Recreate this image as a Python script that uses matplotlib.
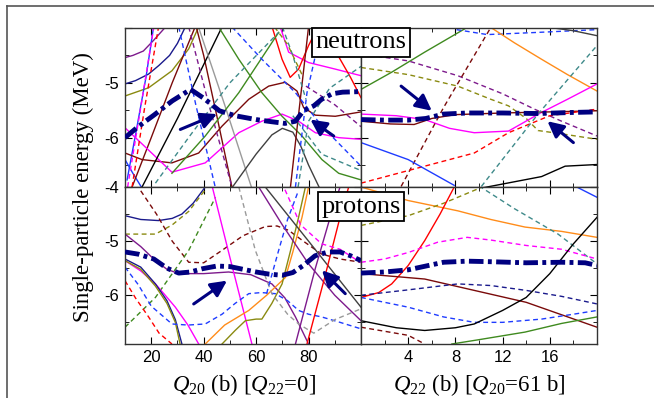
import matplotlib
matplotlib.use('Agg')
from matplotlib import pyplot as plt
from matplotlib.lines import Line2D
from matplotlib.ticker import MultipleLocator, FixedLocator

# ---- data: single-particle levels ----
# neutrons vs Q20 (Q22 = 0)
n_q20_x = {
    'thick': [10, 15, 21, 28, 35, 40, 46, 52, 60, 66, 71, 75, 78, 82, 85, 89, 93, 100],
    'purple': [10, 13, 17, 21, 25.5],
    'navy': [10, 14, 19, 23, 27, 30, 33],
    'olive': [10, 19, 27.9, 34.3, 38.1],
    'blue1': [10.8, 14, 18, 20.9],
    'blue2': [10, 13, 16.5],
    'brown1': [12.7, 20, 28, 34, 37, 40, 45, 51],
    'brown2': [10, 16.5, 27.9, 38.1, 47, 57.2, 64.8, 71.1, 75.6, 78.1, 82.6, 90.2, 100],
    'magenta1': [10, 27.9, 40.6, 53.4, 62.2, 69.9, 76.2, 82.6, 91.5, 100],
    'magenta2': [69.2, 72.4, 80, 90.2, 100],
    'red1': [66.1, 69.9, 73, 76.2, 80, 82],
    'red2': [90, 93, 96, 100],
    'black': [16.5, 30, 47],
    'gray': [38, 48, 58.4],
    'green1': [45.7, 53.4, 62.2, 69.9, 77.5, 85.1, 91.5, 100],
    'green2': [27.9, 40.6, 53.4, 68.6],
    'dkgray': [51, 60, 66, 70, 74, 77, 80, 84],
    'brown3': [73.1, 76.5, 80],
    'red_d': [12.7, 17.5, 22.8],
    'magenta_d': [11, 16, 21],
    'blue_d1': [30.5, 37, 44.4],
    'purple_d': [34.3, 42, 50.8],
    'blue_d2': [50.8, 62.2, 75, 85.1, 100],
    'blue_d3': [75, 79.4, 85.1],
    'teal_d1': [21.6, 35, 50, 68.6],
    'teal_d2': [76, 80, 88, 100],
    'teal_d3': [70, 74, 79],
    'teal_d4': [74, 85, 100],
    'olive_d': [67, 72, 78],
    'purple_d2': [79, 90, 100],
}
n_q20_y = {
    'thick': [-6.0, -5.8, -5.59, -5.33, -5.12, -5.28, -5.51, -5.6, -5.67, -5.71, -5.74, -5.7, -5.51, -5.42, -5.3, -5.2, -5.17, -5.16],
    'purple': [-4.54, -4.5, -4.42, -4.22, -3.98],
    'navy': [-5.02, -4.96, -4.84, -4.68, -4.5, -4.28, -3.98],
    'olive': [-5.24, -5.09, -4.78, -4.38, -3.98],
    'blue1': [-6.77, -5.95, -4.9, -3.98],
    'blue2': [-6.4, -6.65, -6.92],
    'brown1': [-6.9, -6.0, -5.0, -4.3, -3.95, -4.5, -5.6, -6.95],
    'brown2': [-6.28, -6.4, -6.46, -6.28, -5.79, -5.3, -5.06, -4.99, -5.15, -5.45, -5.59, -5.61, -5.53],
    'magenta1': [-5.82, -6.63, -6.46, -5.91, -5.7, -5.57, -5.7, -5.91, -6.0, -6.03],
    'magenta2': [-3.98, -4.44, -4.63, -4.75, -4.87],
    'red1': [-3.98, -4.57, -4.9, -4.75, -4.32, -4.13],
    'red2': [-4.4, -4.65, -4.9, -5.27],
    'black': [-6.9, -5.65, -3.98],
    'gray': [-3.98, -5.4, -6.93],
    'green1': [-3.98, -4.57, -5.18, -5.61, -5.97, -6.4, -6.65, -6.77],
    'green2': [-6.65, -5.97, -5.18, -4.08],
    'dkgray': [-6.9, -6.3, -5.95, -5.83, -5.9, -6.15, -6.5, -6.9],
    'brown3': [-6.9, -5.45, -3.98],
    'red_d': [-6.9, -5.45, -3.98],
    'magenta_d': [-6.9, -5.45, -3.98],
    'blue_d1': [-3.98, -5.4, -6.9],
    'purple_d': [-3.98, -5.4, -6.9],
    'blue_d2': [-3.98, -4.57, -5.18, -5.79, -6.52],
    'blue_d3': [-6.9, -5.18, -3.98],
    'teal_d1': [-6.83, -5.95, -5.0, -4.08],
    'teal_d2': [-6.9, -5.7, -5.1, -4.7],
    'teal_d3': [-3.98, -4.5, -5.3],
    'teal_d4': [-5.6, -6.3, -6.6],
    'olive_d': [-3.98, -4.3, -4.9],
    'purple_d2': [-5.06, -5.4, -5.8],
}

# neutrons vs Q22 (Q20 = 61 b)
n_q22_x = {
    'thick': [0, 2, 4, 5.5, 7, 9, 12, 15, 18, 20],
    'green': [0, 2.57, 5.4, 9.07],
    'blue_d': [8.1, 10.7, 15, 20],
    'dkgray': [16, 18, 20],
    'orange': [11, 13, 15.3, 17.5, 20],
    'purple_d': [0, 4, 8.2, 12, 14.7, 17, 20],
    'olive_d': [0, 4, 8.2, 11, 12.5, 14, 15, 17, 20],
    'magenta': [0, 3, 5.4, 7.5, 9.6, 12.5, 15.3, 17.5, 20],
    'brown': [0, 2.5, 4.5, 6, 8, 12, 20],
    'brown_d': [3.4, 7, 11],
    'red_d': [0, 5.4, 9.6, 12.5, 16, 20],
    'teal_d': [10.2, 15, 20],
    'blue': [0, 4, 7.9],
    'black': [10.2, 15.3, 17.3, 20],
}
n_q22_y = {
    'thick': [-5.67, -5.68, -5.68, -5.65, -5.57, -5.55, -5.55, -5.56, -5.54, -5.53],
    'green': [-5.12, -4.81, -4.44, -3.98],
    'blue_d': [-4.03, -4.12, -4.08, -4.03],
    'dkgray': [-3.99, -4.05, -4.14],
    'orange': [-3.99, -4.27, -4.57, -4.85, -5.15],
    'purple_d': [-4.47, -4.6, -4.87, -5.2, -5.48, -5.7, -5.97],
    'olive_d': [-4.72, -4.85, -5.06, -5.3, -5.42, -5.65, -5.87, -5.93, -6.03],
    'magenta': [-5.57, -5.6, -5.67, -5.83, -5.91, -5.88, -5.54, -5.3, -5.02],
    'brown': [-5.7, -5.75, -5.76, -5.65, -5.58, -5.55, -5.51],
    'brown_d': [-6.89, -5.45, -3.99],
    'red_d': [-6.83, -6.52, -6.28, -5.91, -5.6, -5.48],
    'teal_d': [-6.89, -5.57, -4.32],
    'blue': [-6.09, -6.4, -6.87],
    'black': [-6.92, -6.71, -6.52, -6.49],
}

# protons vs Q20 (Q22 = 0)
p_q20_x = {
    'thick': [10, 15, 21, 26, 30.5, 35, 39.5, 45, 50, 55, 60, 65, 70, 74, 78, 82.5, 87.5, 92, 96, 100],
    'navy1': [10, 16, 22.8, 28, 31.7, 36, 40.6],
    'olive_d': [10, 21.6, 28, 34.3, 40.6],
    'brown_d': [16, 22, 28, 34.3, 40, 47, 55, 63.5, 68, 72.4, 78, 85, 92, 100],
    'green_d': [10, 21.6, 34.3, 44.5],
    'purple1': [10, 16, 21.6, 26, 30.5, 40, 49.5, 58, 66, 71, 75, 80],
    'magenta1': [43.2, 50, 58.4],
    'magenta2': [10, 16, 21.6, 25, 29.2, 34, 38.1],
    'navy2': [10, 16, 21.6, 26, 29.2, 31.7],
    'olive2': [10, 16, 21.6, 26, 29.2, 31],
    'blue_d1': [10, 15, 20, 27.9, 34, 40.6, 47, 52, 57.2, 62, 67.3, 72, 76.2, 80, 85, 92, 100],
    'red_d': [10, 14, 19, 23, 27.9],
    'orange': [40.6, 48, 57.2, 64, 71.2, 74, 77.5, 80],
    'olive1': [47, 52, 55.9, 60, 62.2, 66, 69.9, 73, 76.2, 78.8],
    'gray_d': [53.4, 59.7, 66, 72, 76.2, 82, 90, 100],
    'purple2': [61, 70, 80, 90, 100],
    'dkgray': [63.5, 80, 100],
    'red1': [79.4, 86, 92, 95.3],
    'purple3': [75, 82.6, 88, 92],
    'magenta_d': [71, 77, 85, 92, 100],
    'blue_d2': [64, 68.6, 72, 76.2],
}
p_q20_y = {
    'thick': [-5.2, -5.24, -5.33, -5.5, -5.59, -5.57, -5.51, -5.46, -5.47, -5.52, -5.57, -5.61, -5.63, -5.58, -5.45, -5.27, -5.2, -5.2, -5.27, -5.36],
    'navy1': [-4.53, -4.6, -4.62, -4.58, -4.5, -4.3, -4.0],
    'olive_d': [-4.87, -4.87, -4.7, -4.45, -4.05],
    'brown_d': [-4.07, -4.5, -5.0, -5.39, -5.4, -5.17, -4.9, -4.73, -4.72, -4.8, -5.0, -5.24, -5.33, -5.39],
    'green_d': [-6.59, -6.04, -5.17, -4.19],
    'purple1': [-4.87, -5.1, -5.36, -5.52, -5.6, -5.6, -5.57, -5.62, -5.79, -6.05, -6.4, -6.9],
    'magenta1': [-3.98, -5.3, -6.9],
    'magenta2': [-5.36, -5.55, -5.79, -5.98, -6.22, -6.55, -6.9],
    'navy2': [-5.33, -5.48, -5.79, -6.1, -6.45, -6.9],
    'olive2': [-5.36, -5.52, -5.83, -6.15, -6.5, -6.9],
    'blue_d1': [-5.48, -5.8, -6.2, -6.53, -6.55, -6.53, -6.35, -6.15, -5.97, -5.95, -5.97, -6.1, -6.28, -6.35, -6.4, -6.5, -6.62],
    'red_d': [-5.73, -6.05, -6.4, -6.7, -6.9],
    'orange': [-6.9, -6.55, -6.28, -6.0, -5.67, -5.2, -4.56, -4.0],
    'olive1': [-6.9, -6.65, -6.47, -6.44, -6.44, -6.15, -5.79, -5.2, -4.56, -4.0],
    'gray_d': [-4.0, -5.17, -5.97, -6.35, -6.53, -6.7, -6.45, -6.25],
    'purple2': [-4.0, -4.7, -5.42, -6.0, -6.47],
    'dkgray': [-4.0, -5.0, -6.22],
    'red1': [-6.9, -5.7, -4.56, -4.0],
    'purple3': [-6.9, -5.5, -4.6, -4.0],
    'magenta_d': [-4.05, -4.7, -5.05, -5.15, -5.4],
    'blue_d2': [-5.97, -5.17, -4.6, -4.06],
}

# protons vs Q22 (Q20 = 61 b)
p_q22_x = {
    'thick': [0, 2, 4, 5.5, 7, 9, 11, 14, 17, 19, 20],
    'orange': [0, 4, 8.2, 11, 13.9, 17, 20],
    'olive_d': [0, 4, 7, 10.5],
    'red': [0, 1.5, 2.6, 4, 5.4, 6.7, 7.9],
    'teal_d': [10, 13, 16.7, 20],
    'magenta_d': [0, 2, 4, 6.5, 9, 11, 14, 17, 20],
    'brown': [0, 5.4, 10, 14, 20],
    'navy_d': [0, 4, 8.2, 11, 14, 17, 20],
    'blue_d': [0, 4, 7, 9.6, 12, 15.3, 18, 20],
    'black': [0, 3, 5.4, 8, 9.6, 12, 14, 16, 18, 20],
    'green': [7.7, 10, 13.9, 17, 20],
    'brown_d': [0, 4, 5.4],
    'blue': [18.1, 20],
}
p_q22_y = {
    'thick': [-5.59, -5.57, -5.53, -5.46, -5.39, -5.37, -5.38, -5.4, -5.39, -5.4, -5.45],
    'orange': [-4.0, -4.25, -4.44, -4.6, -4.74, -4.82, -4.93],
    'olive_d': [-4.71, -4.53, -4.3, -3.98],
    'red': [-6.04, -5.95, -5.79, -5.45, -4.99, -4.5, -4.0],
    'teal_d': [-3.98, -4.4, -4.87, -5.42],
    'magenta_d': [-5.39, -5.33, -5.21, -5.02, -4.93, -4.98, -5.08, -5.15, -5.33],
    'brown': [-5.6, -5.7, -5.93, -6.13, -6.59],
    'navy_d': [-6.0, -5.9, -5.79, -5.82, -5.91, -6.02, -6.16],
    'blue_d': [-6.04, -6.22, -6.4, -6.5, -6.5, -6.44, -6.35, -6.28],
    'black': [-6.47, -6.6, -6.65, -6.6, -6.53, -6.28, -6.04, -5.6, -5.05, -4.56],
    'green': [-6.9, -6.82, -6.68, -6.52, -6.4],
    'brown_d': [-6.59, -6.74, -6.9],
    'blue': [-3.98, -4.19],
}

q20_ticks = [20, 40, 60, 80]
q22_ticks = [4, 8, 12, 16]

# arrows (tail, head) in data units
n_q20_arrows = [((31.1, -5.85), (45.1, -5.57)), ((89.6, -5.97), (80.7, -5.67))]
n_q22_arrows = [((3.4, -5.06), (6.0, -5.51)), ((18.0, -6.09), (15.8, -5.70))]
p_q20_arrows = [((36.2, -6.16), (48.9, -5.73)), ((94.0, -5.97), (85.1, -5.54))]
p_q22_arrows = []

# ---- styles ----
colors = {
    'thick': '#000080', 'navy': '#1a1a8c', 'blue': '#1f3cff', 'brown': '#7a0a0a',
    'magenta': '#ff00ff', 'purple': '#7d1a8c', 'olive': '#8a8a10', 'green': '#3f8a1f',
    'teal': '#3f8a8a', 'orange': '#ff8c1a', 'gray': '#9a9a9a', 'dkgray': '#404040',
    'red': '#ff0000', 'black': '#000000',
}


def style_of(name):
    base = name.split('_')[0].rstrip('0123456789')
    dashed = '_d' in name
    return colors[base], dashed


navy = '#000080'
serif = 'Liberation Serif'
plt.rcParams['font.family'] = 'Liberation Sans'
plt.rcParams['axes.unicode_minus'] = False
plt.rcParams['mathtext.fontset'] = 'custom'
plt.rcParams['mathtext.rm'] = serif
plt.rcParams['mathtext.it'] = serif + ':italic'

fig = plt.figure(figsize=(6.54, 3.98), dpi=100)

x0, xm, x1 = 125 / 654, 361 / 654, 597 / 654
yb, ym, yt = 1 - 344 / 398, 1 - 187 / 398, 1 - 28 / 398

panels = [
    (n_q20_x, n_q20_y, n_q20_arrows, [x0, ym, xm - x0, yt - ym], 'q20', True),
    (n_q22_x, n_q22_y, n_q22_arrows, [xm, ym, x1 - xm, yt - ym], 'q22', True),
    (p_q20_x, p_q20_y, p_q20_arrows, [x0, yb, xm - x0, ym - yb], 'q20', False),
    (p_q22_x, p_q22_y, p_q22_arrows, [xm, yb, x1 - xm, ym - yb], 'q22', False),
]

for xs, ys, arrows, rect, kind, top in panels:
    ax = fig.add_axes(rect)
    for name in xs:
        if name == 'thick':
            continue
        c, dashed = style_of(name)
        ax.plot(xs[name], ys[name], color=c, lw=1.0,
                ls=(0, (3.5, 2.5)) if dashed else '-', zorder=2)
    ax.plot(xs['thick'], ys['thick'], color=navy, lw=3.5,
            ls=(0, (3.0, 0.9, 0.8, 0.9)), zorder=4)
    for tail, head in arrows:
        ax.annotate('', xy=head, xytext=tail,
                    arrowprops=dict(arrowstyle='-|>', color=navy, lw=2.2,
                                    mutation_scale=24, shrinkA=0, shrinkB=0),
                    zorder=5)
    if kind == 'q20':
        ax.set_xlim(10, 100)
        ax.xaxis.set_major_locator(FixedLocator(q20_ticks))
        ax.xaxis.set_minor_locator(MultipleLocator(10))
    else:
        ax.set_xlim(0, 20)
        ax.xaxis.set_major_locator(FixedLocator(q22_ticks))
        ax.xaxis.set_minor_locator(MultipleLocator(2))
    ax.set_ylim(-6.9, -4.0)
    ax.yaxis.set_major_locator(MultipleLocator(1))
    ax.yaxis.set_minor_locator(MultipleLocator(0.5))
    ax.tick_params(which='both', direction='in', top=True, right=True,
                   labelsize=12, pad=4)
    ax.tick_params(which='major', length=5)
    ax.tick_params(which='minor', length=3)
    for sp in ax.spines.values():
        sp.set_linewidth(1.0)
        sp.set_color('#333333')
    if top:
        ax.tick_params(labelbottom=False)
    if kind == 'q22':
        ax.tick_params(labelleft=False)
    elif top:
        ax.set_yticks([-6, -5, -4])
        ax.set_yticklabels(['-6', '-5', ''])

fig.text(361 / 654, 1 - 42.5 / 398, 'neutrons', family=serif, fontsize=19,
         ha='center', va='center', zorder=10,
         bbox=dict(boxstyle='square,pad=0.12', fc='white', ec='black', lw=1.3))
fig.text(361 / 654, 1 - 206.5 / 398, 'protons', family=serif, fontsize=19,
         ha='center', va='center', zorder=10,
         bbox=dict(boxstyle='square,pad=0.12', fc='white', ec='black', lw=1.3))

fig.text(83 / 654, 1 - 187 / 398, 'Single-particle energy (MeV)', family=serif,
         fontsize=16.5, rotation=90, ha='center', va='center')
fig.text(244 / 654, 1 - 385 / 398, r'$Q_{20}$ (b) [$Q_{22}$=0]', family=serif,
         fontsize=16.5, ha='center', va='center')
fig.text(479 / 654, 1 - 385 / 398, r'$Q_{22}$ (b) [$Q_{20}$=61 b]', family=serif,
         fontsize=16.5, ha='center', va='center')

# partial frame (top and left edges)
fig.add_artist(Line2D([7 / 654, 1], [1 - 6 / 398, 1 - 6 / 398],
                      transform=fig.transFigure, color='#555555', lw=1.2))
fig.add_artist(Line2D([7 / 654, 7 / 654], [0, 1 - 6 / 398],
                      transform=fig.transFigure, color='#555555', lw=1.2))

fig.savefig('out.png', dpi=100)
